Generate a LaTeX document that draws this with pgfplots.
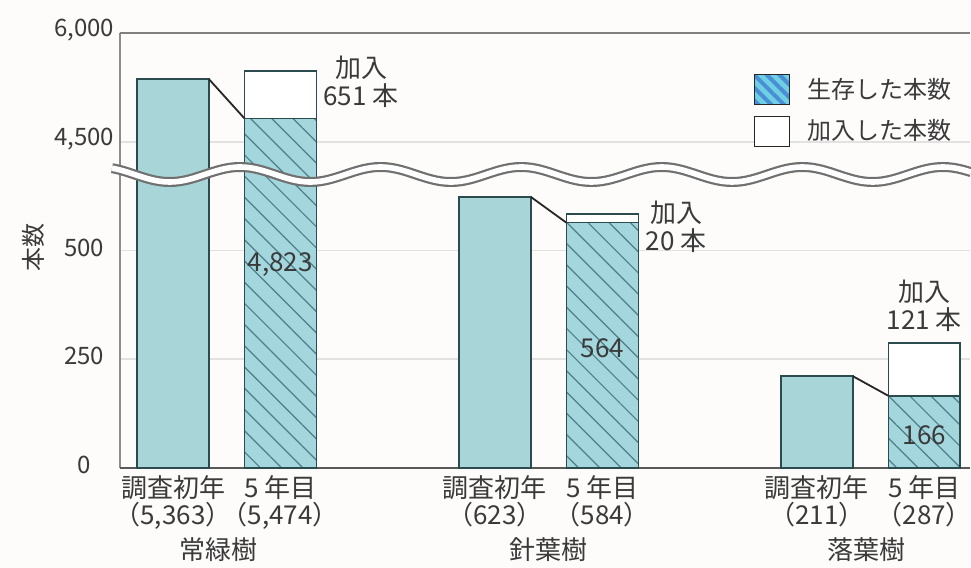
\documentclass[border=0pt]{standalone}
\usepackage{fontspec}
\setmainfont{Noto Sans CJK JP}
\usepackage{pgfplots}
\usepackage{pgfplotstable}
\pgfplotsset{compat=1.18}
\usetikzlibrary{patterns.meta}

\definecolor{barA}{HTML}{A8D6D8}
\definecolor{barB}{HTML}{A4D6DE}
\definecolor{edgec}{HTML}{2B4B4E}
\definecolor{hatchc}{HTML}{4E7F88}
\definecolor{txt}{HTML}{3A3A3A}
\definecolor{gridc}{HTML}{E2E2E2}
\definecolor{bg}{HTML}{FDFCFA}
\definecolor{legB}{HTML}{4A8FD6}
\definecolor{legC}{HTML}{6ED0E2}
\definecolor{waveg}{HTML}{707070}

% values (trees)
\pgfplotstableread{
x v
0 5363
3 623
6 211
}\initialtab
\pgfplotstableread{
x v
1 5474
4 584
7 287
}\totaltab
\pgfplotstableread{
x v
1 4823
4 564
7 166
}\survtab

% broken axis: 0..~700 linear, 4500.. compressed (1/6)
\newcommand\brk{\thisrow{v}<2000 ? \thisrow{v} : 750+(\thisrow{v}-4500)/6}

\begin{document}
\begin{tikzpicture}
\path[use as bounding box, fill=bg] (-60pt,-50pt) rectangle (425.5pt,234pt);
\begin{axis}[
  at={(0pt,0pt)}, anchor=south west,
  scale only axis, width=425pt, height=217.5pt,
  xmin=-0.494, xmax=7.426, ymin=0, ymax=1000,
  axis line style={draw=none},
  major tick length=0pt, tick style={draw=none},
  ymajorgrids, grid style={gridc, line width=0.8pt},
  ytick={0,250,500,750,1000},
  yticklabels={0,250,500,{4,500},{6,000}},
  xtick={0,1,3,4,6,7},
  xticklabels={{調査初年\\（5,363）},{5 年目\\（5,474）},{調査初年\\（623）},{5 年目\\（584）},{調査初年\\（211）},{5 年目\\（287）}},
  yticklabel style={font=\fontsize{12}{14}\selectfont, text=txt, anchor=center, xshift=-18pt, yshift=1.5pt},
  xticklabel style={font=\fontsize{13}{13.5}\selectfont, text=txt, align=center, anchor=north},
  ylabel={本数},
  every axis y label/.style={at={([xshift=-43.5pt]rel axis cs:0,0.506)}, rotate=90, anchor=center, font=\fontsize{12}{14}\selectfont, text=txt},
  clip=false,
  legend cell align=left,
  legend image code/.code={\draw[#1] (0pt,-7.5pt) rectangle (17.5pt,7.5pt);},
  legend style={at={(rel axis cs:0.7435,0.910)}, anchor=north west, draw=none, fill=none,
    inner sep=0pt, font=\fontsize{12}{14}\selectfont, text=txt, row sep=4.5pt, column sep=8pt,
    nodes={inner sep=0pt}},
]
% frame lines
\draw[black!45, line width=0.8pt] (rel axis cs:0,0) -- (rel axis cs:0,1);
\draw[black!50, line width=0.9pt] (rel axis cs:0,1) -- (rel axis cs:1,1);
\draw[black!65, line width=0.9pt] (rel axis cs:0,0) -- (rel axis cs:1,0);

\addplot[ybar, bar width=0.67, bar shift=0pt, fill=barA, draw=edgec, line width=0.75pt, forget plot]
  table[x=x, y expr=\brk] {\initialtab};
\addplot[ybar, bar width=0.67, bar shift=0pt, fill=white, draw=edgec, line width=0.75pt, forget plot]
  table[x=x, y expr=\brk] {\totaltab};
\addplot[ybar, bar width=0.67, bar shift=0pt, fill=barB, draw=edgec, line width=0.75pt, forget plot,
  postaction={pattern={Lines[angle=-45,distance=7.5pt,line width=0.6pt]}, pattern color=hatchc}]
  table[x=x, y expr=\brk] {\survtab};

% connecting lines
\addplot[black!85, line width=0.9pt, forget plot] table[row sep=\\, x=x, y expr=\brk] {x v\\ 0.335 5363\\ 0.665 4823\\};
\addplot[black!85, line width=0.9pt, forget plot] table[row sep=\\, x=x, y expr=\brk] {x v\\ 3.335 623\\ 3.665 564\\};
\addplot[black!85, line width=0.9pt, forget plot] table[row sep=\\, x=x, y expr=\brk] {x v\\ 6.335 211\\ 6.665 166\\};

\addlegendimage{fill=legC, draw=black!85, line width=0.75pt, postaction={pattern={Lines[angle=-45,distance=4.5pt,line width=2pt]}, pattern color=legB}}
\addlegendentry{生存した本数}
\addlegendimage{fill=white, draw=black!85, line width=0.75pt}
\addlegendentry{加入した本数}

% value labels
\node[font=\fontsize{13}{14}\selectfont, text=txt] at (axis cs:1,467) {4,823};
\node[font=\fontsize{13}{14}\selectfont, text=txt] at (axis cs:4,276) {564};
\node[font=\fontsize{13}{14}\selectfont, text=txt] at (axis cs:7,76) {166};
\node[font=\fontsize{13}{14}\selectfont, text=txt, align=center] at (axis cs:1.752,887) {加入\\651 本};
\node[font=\fontsize{13}{14}\selectfont, text=txt, align=center] at (axis cs:4.688,555) {加入\\20 本};
\node[font=\fontsize{13}{14}\selectfont, text=txt, align=center] at (axis cs:7.0,372) {加入\\121 本};

% group labels
\node[font=\fontsize{13}{14}\selectfont, text=txt] at ([yshift=-41pt]axis cs:0.42,0) {常緑樹};
\node[font=\fontsize{13}{14}\selectfont, text=txt] at ([yshift=-41pt]axis cs:3.5,0) {針葉樹};
\node[font=\fontsize{13}{14}\selectfont, text=txt] at ([yshift=-41pt]axis cs:6.46,0) {落葉樹};
\end{axis}
% axis-break wave
\draw[waveg, line width=5pt] plot[domain=-4:425.5, samples=220, smooth] ({\x*1pt}, {(146.75+3.75*cos((\x-60)/70.3*360))*1pt});
\draw[white, line width=2.8pt] plot[domain=-4:425.5, samples=220, smooth] ({\x*1pt}, {(146.75+3.75*cos((\x-60)/70.3*360))*1pt});
\end{tikzpicture}
\end{document}
